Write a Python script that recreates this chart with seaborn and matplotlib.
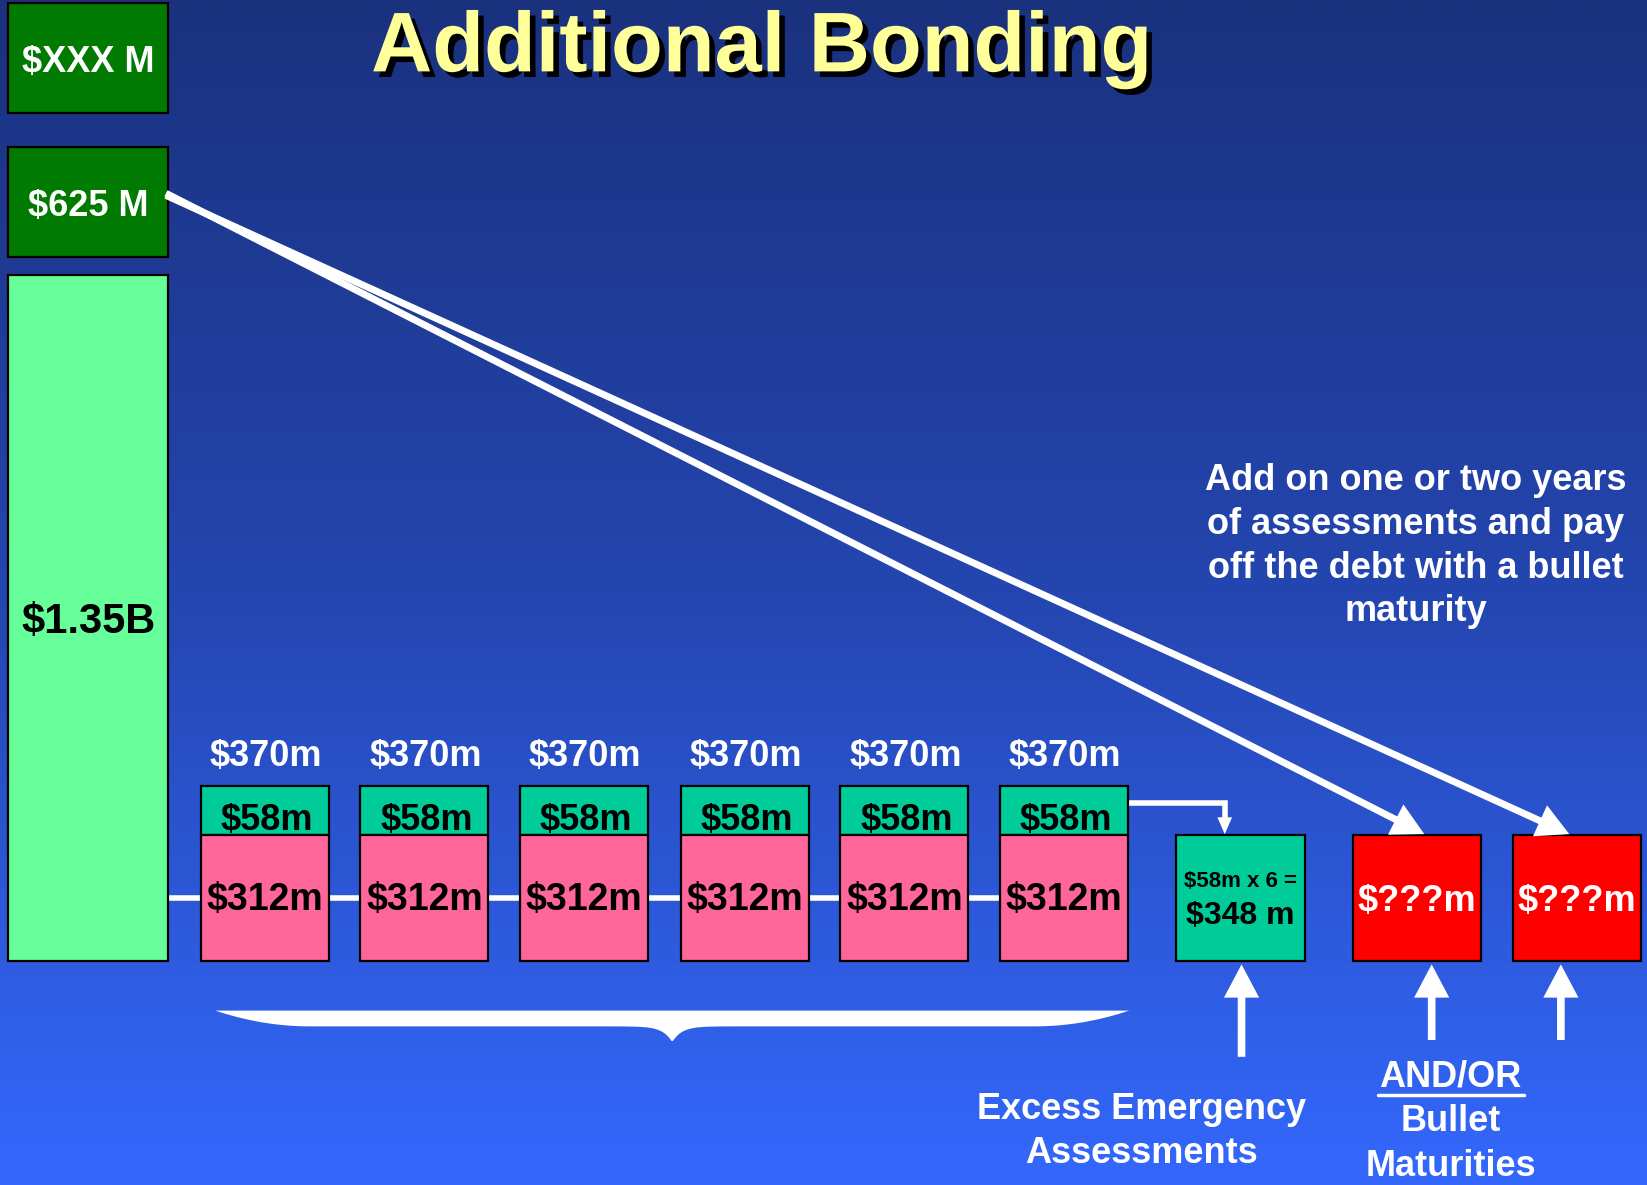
import numpy as np
import matplotlib
matplotlib.use("Agg")
import matplotlib.pyplot as plt
import seaborn as sns
from matplotlib.patches import Rectangle, Polygon, FancyArrowPatch
from matplotlib.colors import LinearSegmentedColormap
import matplotlib.patheffects as pe

# ---------------- data ----------------
title = "Additional Bonding"
stack_labels = ["$XXX M", "$625 M", "$1.35B"]
year_total_labels = ["$370m", "$370m", "$370m", "$370m", "$370m", "$370m"]
excess_labels = ["$58m", "$58m", "$58m", "$58m", "$58m", "$58m"]
base_labels = ["$312m", "$312m", "$312m", "$312m", "$312m", "$312m"]
excess_sum_labels = ["$58m x 6 =", "$348 m"]
bullet_labels = ["$???m", "$???m"]
note_text = "Add on one or two years\nof assessments and pay\noff the debt with a bullet\nmaturity"
excess_caption = "Excess Emergency\nAssessments"
bullet_caption = ["AND/OR", "Bullet", "Maturities"]

# ---------------- style ----------------
sns.set_theme(style="white")
plt.rcParams['font.family'] = ['Liberation Sans', 'DejaVu Sans']
plt.rcParams['font.weight'] = 'bold'

W, H = 1568, 1128
fig = plt.figure(figsize=(16.47, 11.85), dpi=100)
ax = fig.add_axes([0, 0, 1, 1])
ax.set_xlim(0, W)
ax.set_ylim(H, 0)
ax.axis('off')

# background gradient
cmap = LinearSegmentedColormap.from_list('bg', ['#1a317e', '#2446b0', '#3468fd'])
grad = np.linspace(0, 1, 512)[:, None]
ax.imshow(grad, extent=[0, W, H, 0], cmap=cmap, aspect='auto', zorder=0)

DARK_GREEN = '#007a00'
LIGHT_GREEN = '#66ff99'
TEAL = '#00cc99'
PINK = '#ff6699'
RED = '#ff0000'

def box(x, y, w, h, color, z=3):
    ax.add_patch(Rectangle((x, y), w, h, facecolor=color, edgecolor='black', lw=1.6, zorder=z))

# title
ax.text(725, 47, title, ha='center', va='center', fontsize=61, fontweight='bold',
        color='#ffff99', zorder=6,
        path_effects=[pe.withSimplePatchShadow(offset=(4, -4), shadow_rgbFace='black', alpha=1.0)])

# left stack
stack_geom = [(3, 105, DARK_GREEN, 'white'), (140, 105, DARK_GREEN, 'white'), (262, 653, LIGHT_GREEN, 'black')]
for lab, (y0, h, col, tc) in zip(stack_labels, stack_geom):
    box(8, y0, 152, h, col)
    fs = 30 if lab == "$1.35B" else 26
    ax.text(84, y0 + h / 2 + 4, lab, ha='center', va='center', fontsize=fs, fontweight='bold', color=tc, zorder=5)

# connecting horizontal line
ax.plot([160, 960], [855, 855], color='white', lw=4, zorder=2, solid_capstyle='butt')

# six year boxes
x_starts = [191, 343, 495, 648, 800, 952]
bw = 122
for i, x0 in enumerate(x_starts):
    box(x0, 748, bw, 47, TEAL)
    box(x0, 795, bw, 120, PINK)
    cx = x0 + bw / 2
    ax.text(cx + 2, 781, excess_labels[i], ha='center', va='center', fontsize=26, fontweight='bold', color='black', zorder=5)
    ax.text(cx, 857, base_labels[i], ha='center', va='center', fontsize=27, fontweight='bold', color='black', zorder=5)
    ax.text(cx + 1, 720, year_total_labels[i], ha='center', va='center', fontsize=26, fontweight='bold', color='white', zorder=5)

# excess sum box
box(1120, 795, 122, 120, TEAL)
ax.text(1181, 839, excess_sum_labels[0], ha='center', va='center', fontsize=16, fontweight='bold', color='black', zorder=5)
ax.text(1181, 872, excess_sum_labels[1], ha='center', va='center', fontsize=23, fontweight='bold', color='black', zorder=5)

# bullet boxes
for lab, x0 in zip(bullet_labels, [1288, 1440]):
    box(x0, 795, 122, 120, RED)
    ax.text(x0 + 61, 858, lab, ha='center', va='center', fontsize=26, fontweight='bold', color='white', zorder=5)

# connector from last year's excess to sum box
ax.plot([1074, 1166, 1166], [764, 764, 780], color='white', lw=4, zorder=2, solid_joinstyle='miter')
ax.add_patch(Polygon([[1159, 778], [1173, 778], [1166, 794]], closed=True, facecolor='white', edgecolor='none', zorder=4))

# arrows
def arrow(p0, p1, lw=5, hw=0.45, hl=0.85, ms=18):
    a = FancyArrowPatch(p0, p1, arrowstyle=f'-|>,head_length={hl},head_width={hw}',
                        mutation_scale=ms, color='white', lw=lw, zorder=4,
                        shrinkA=0, shrinkB=0, joinstyle='miter', capstyle='butt')
    ax.add_patch(a)

arrow((158, 184), (1356, 794))
arrow((158, 186), (1494, 794))

arrow((1182, 1006), (1182, 918), lw=5.5)
arrow((1363, 990), (1363, 918), lw=5.5)
arrow((1486, 990), (1486, 918), lw=5.5)

# brace
xl, xr, xc = 205, 1075, 640
top_y = 962
def bottom(x, tip):
    d = np.abs(x - tip)
    base = top_y + 15 * (1 - (1 - np.clip(d / 90, 0, 1)) ** 2)
    dc = np.abs(x - xc)
    return base + 15 * np.exp(-dc / 9)
xs = np.linspace(xl, xr, 600)
bot = np.where(xs <= xc, bottom(xs, xl), bottom(xs, xr))
poly = np.vstack([np.column_stack([xs, np.full_like(xs, top_y)]),
                  np.column_stack([xs[::-1], bot[::-1]])])
ax.add_patch(Polygon(poly, closed=True, facecolor='white', edgecolor='none', zorder=3))

# note text
ax.text(1348, 520, note_text, ha='center', va='center', fontsize=26, fontweight='bold',
        color='white', linespacing=1.32, zorder=5)

# captions
ax.text(1087, 1077, excess_caption, ha='center', va='center', fontsize=26, fontweight='bold',
        color='white', linespacing=1.32, zorder=5)
for lab, y in zip(bullet_caption, [1025, 1068, 1110]):
    ax.text(1381, y, lab, ha='center', va='center', fontsize=26, fontweight='bold', color='white', zorder=5)
ax.plot([1312, 1451], [1042, 1042], color='white', lw=2.5, zorder=5)

fig.savefig('out.png', dpi=100)
